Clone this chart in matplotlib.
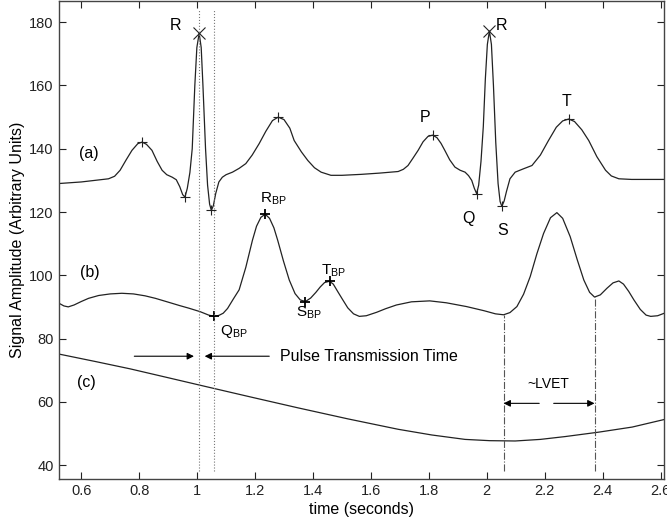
import matplotlib
matplotlib.use('Agg')
import matplotlib.pyplot as plt
import numpy as np

plt.rcParams['font.family'] = ['Liberation Sans', 'DejaVu Sans']
plt.rcParams['mathtext.fontset'] = 'custom'
plt.rcParams['mathtext.rm'] = 'Liberation Sans'
plt.rcParams['mathtext.it'] = 'Liberation Sans:italic'

# (a) ECG
ecg_t = [0.522, 0.600, 0.694, 0.715, 0.734, 0.755, 0.775, 0.795, 0.810, 0.825,
         0.844, 0.862, 0.879, 0.895, 0.914, 0.928, 0.940, 0.950, 0.958, 0.966,
         0.975, 0.983, 0.992, 0.999, 1.007, 1.014, 1.020, 1.029, 1.036, 1.043,
         1.049, 1.056, 1.064, 1.075, 1.087, 1.100, 1.122, 1.145, 1.168, 1.190,
         1.214, 1.237, 1.260, 1.280, 1.300, 1.320, 1.335, 1.360, 1.382, 1.405,
         1.428, 1.462, 1.500, 1.566, 1.630, 1.694, 1.712, 1.728, 1.745, 1.763,
         1.780, 1.797, 1.813, 1.828, 1.842, 1.855, 1.872, 1.890, 1.908, 1.925,
         1.937, 1.948, 1.957, 1.965, 1.972, 1.980, 1.988, 1.995, 2.002, 2.009,
         2.016, 2.023, 2.031, 2.039, 2.046, 2.052, 2.060, 2.068, 2.080, 2.098,
         2.125, 2.156, 2.185, 2.213, 2.240, 2.262, 2.283, 2.303, 2.328, 2.352,
         2.380, 2.410, 2.430, 2.456, 2.500, 2.613]
ecg_v = [129.0, 129.5, 130.5, 131.3, 133.2, 136.5, 139.5, 141.6, 142.1, 141.4,
         139.5, 136.0, 133.2, 131.8, 131.0, 130.2, 128.0, 125.5, 124.7, 127.5,
         132.5, 140.0, 160.0, 172.0, 176.5, 172.0, 160.0, 140.0, 128.5, 122.5,
         120.5, 122.0, 125.8, 129.5, 131.0, 131.8, 132.6, 133.8, 135.3, 138.0,
         141.6, 145.5, 148.9, 150.0, 149.2, 146.5, 142.6, 139.0, 136.3, 134.0,
         132.6, 131.6, 131.6, 131.9, 132.3, 132.8, 133.5, 134.7, 137.0, 139.5,
         142.2, 143.9, 144.3, 143.5, 141.7, 139.5, 136.5, 134.2, 133.2, 132.6,
         131.5, 130.0, 127.5, 125.8, 128.5, 136.0, 147.0, 162.0, 173.0, 177.2,
         173.0, 160.0, 142.0, 129.0, 123.3, 121.8, 123.5, 126.5, 130.5, 132.6,
         133.6, 134.7, 138.0, 142.6, 146.8, 148.8, 149.4, 148.6, 146.0, 142.6,
         137.5, 133.2, 131.4, 130.5, 130.3, 130.3]

# (b) blood pressure
bp_t = [0.522, 0.540, 0.555, 0.575, 0.600, 0.625, 0.660, 0.700, 0.740, 0.780,
        0.820, 0.856, 0.900, 0.940, 0.971, 1.010, 1.040, 1.058, 1.075, 1.090,
        1.105, 1.125, 1.145, 1.168, 1.191, 1.205, 1.220, 1.235, 1.250, 1.265,
        1.278, 1.298, 1.318, 1.338, 1.356, 1.374, 1.392, 1.410, 1.425, 1.440,
        1.457, 1.470, 1.487, 1.503, 1.520, 1.540, 1.560, 1.584, 1.620, 1.650,
        1.688, 1.740, 1.803, 1.860, 1.930, 1.990, 2.030, 2.058, 2.080, 2.104,
        2.127, 2.150, 2.173, 2.196, 2.220, 2.242, 2.262, 2.288, 2.312, 2.335,
        2.355, 2.372, 2.392, 2.415, 2.436, 2.456, 2.472, 2.490, 2.508, 2.530,
        2.550, 2.566, 2.590, 2.613]
bp_v = [91.2, 90.3, 90.0, 90.6, 91.7, 92.7, 93.6, 94.1, 94.3, 94.1,
        93.5, 92.7, 91.5, 90.4, 89.6, 88.5, 87.4, 87.0, 87.3, 88.0,
        89.5, 92.5, 95.4, 102.5, 111.1, 115.5, 118.3, 119.3, 118.0, 115.0,
        111.1, 104.5, 98.5, 94.2, 92.2, 91.7, 92.8, 94.6, 96.3, 97.7,
        98.1, 97.2, 94.6, 92.2, 89.7, 87.8, 87.0, 87.2, 88.3, 89.4,
        90.6, 91.6, 91.9, 91.3, 90.1, 88.8, 87.8, 87.5, 88.2, 90.1,
        94.0, 99.6, 106.8, 113.2, 118.2, 119.8, 118.0, 112.2, 105.0, 98.5,
        94.6, 93.1, 93.8, 95.9, 97.6, 98.2, 97.2, 94.9, 92.2, 89.2,
        87.4, 87.0, 87.2, 88.0]

# (c) slow signal
c_t = [0.522, 0.650, 0.769, 0.900, 1.035, 1.190, 1.347, 1.520, 1.694, 1.810,
       1.925, 2.010, 2.098, 2.185, 2.271, 2.387, 2.502, 2.613]
c_v = [75.1, 72.7, 70.4, 67.6, 64.7, 61.4, 58.1, 54.6, 51.3, 49.5,
       48.1, 47.7, 47.6, 48.1, 49.0, 50.4, 52.0, 54.4]

# fiducial points
plus_t = [0.810, 0.958, 1.049, 1.280, 1.813, 1.965, 2.052, 2.283]
plus_v = [142.1, 124.7, 120.5, 150.0, 144.3, 125.8, 121.8, 149.4]
r_t = [1.007, 2.009]
r_v = [176.5, 177.2]
bpk_t = [1.058, 1.235, 1.374, 1.457]
bpk_v = [87.0, 119.3, 91.7, 98.1]

ptt_lines = [1.007, 1.058]
lvet_lines = [(2.058, 87.5), (2.372, 93.1)]

fig = plt.figure(figsize=(6.67, 5.24), dpi=100)
ax = fig.add_axes([0.088, 0.086, 0.908, 0.912])

lc = '#222222'
ax.plot(ecg_t, ecg_v, color=lc, lw=0.9)
ax.plot(bp_t, bp_v, color=lc, lw=0.9)
ax.plot(c_t, c_v, color=lc, lw=0.9)
ax.plot(plus_t, plus_v, '+', color=lc, ms=7, mew=0.8)
ax.plot(r_t, r_v, 'x', color=lc, ms=8, mew=0.8)
ax.plot(bpk_t, bpk_v, '+', color='k', ms=7, mew=1.3)

for xv in ptt_lines:
    ax.plot([xv, xv], [38, 184], ':', color='#777777', lw=0.8)
for xv, ytop in lvet_lines:
    ax.plot([xv, xv], [38, ytop], '-.', color='#555555', lw=0.8)

fs = 11.5
ax.text(0.926, 179.1, 'R', ha='center', va='center', fontsize=fs)
ax.text(2.052, 179.1, 'R', ha='center', va='center', fontsize=fs)
ax.text(1.786, 149.9, 'P', ha='center', va='center', fontsize=fs)
ax.text(1.936, 117.9, 'Q', ha='center', va='center', fontsize=fs)
ax.text(2.054, 114.3, 'S', ha='center', va='center', fontsize=fs)
ax.text(2.275, 155.0, 'T', ha='center', va='center', fontsize=fs)
ax.text(0.626, 138.5, '(a)', ha='center', va='center', fontsize=fs)
ax.text(0.628, 101.0, '(b)', ha='center', va='center', fontsize=fs)
ax.text(0.618, 66.1, '(c)', ha='center', va='center', fontsize=fs)

ax.text(1.218, 122.9, r'R$_{\mathrm{BP}}$', ha='left', va='baseline', fontsize=fs - 0.5)
ax.text(1.426, 100.1, r'T$_{\mathrm{BP}}$', ha='left', va='baseline', fontsize=fs - 0.5)
ax.text(1.341, 86.8, r'S$_{\mathrm{BP}}$', ha='left', va='baseline', fontsize=fs - 0.5)
ax.text(1.080, 81.2, r'Q$_{\mathrm{BP}}$', ha='left', va='baseline', fontsize=fs - 0.5)

arr = dict(arrowstyle='-|>', color='k', lw=0.8, mutation_scale=10, shrinkA=0, shrinkB=0)
ax.annotate('', xy=(0.989, 74.4), xytext=(0.783, 74.4), arrowprops=arr)
ax.annotate('', xy=(1.026, 74.4), xytext=(1.249, 74.4), arrowprops=arr)
ax.text(1.287, 74.4, 'Pulse Transmission Time', ha='left', va='center', fontsize=fs)

ax.annotate('', xy=(2.058, 59.5), xytext=(2.181, 59.5), arrowprops=arr)
ax.annotate('', xy=(2.372, 59.5), xytext=(2.231, 59.5), arrowprops=arr)
ax.text(2.211, 65.5, '~LVET', ha='center', va='center', fontsize=fs - 1.5)

ax.set_xlim(0.522, 2.613)
ax.set_ylim(35.6, 186.7)
ax.set_xticks(np.arange(0.6, 2.61, 0.2))
ax.set_xticklabels(['0.6', '0.8', '1', '1.2', '1.4', '1.6', '1.8', '2', '2.2', '2.4', '2.6'])
ax.set_yticks(np.arange(40, 181, 20))
ax.tick_params(direction='in', top=True, right=True, length=5, labelsize=10.5, colors='#222222')
for s in ax.spines.values():
    s.set_color('#444444')
    s.set_linewidth(1.0)

ax.set_xlabel('time (seconds)', fontsize=11.5, labelpad=3)
ax.set_ylabel('Signal Amplitude (Arbitrary Units)', fontsize=11.5, labelpad=3)

fig.savefig('out.png', dpi=100, facecolor='white')
